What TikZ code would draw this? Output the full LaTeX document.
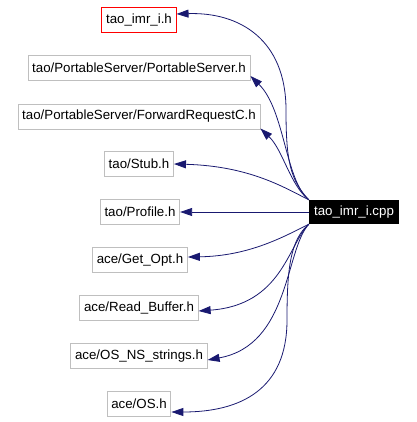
\documentclass[tikz,border=0pt]{standalone}
\usepackage{fontspec}
\setmainfont{Liberation Sans}
\usetikzlibrary{arrows.meta}
\definecolor{EdgeClr}{rgb}{0.098,0.098,0.439}
\definecolor{BoxClr}{rgb}{0.75,0.75,0.75}

\begin{document}
\begin{tikzpicture}[x=1pt,y=-1pt,
  file/.style={draw=BoxClr,line width=0.9pt,inner xsep=4.2pt,minimum height=25pt,font=\fontsize{13.3}{16}\selectfont},
  cur/.style={file,draw=red},
  main/.style={fill=black,text=white,inner xsep=4.2pt,minimum height=24pt,minimum width=90pt,font=\fontsize{13.3}{16}\selectfont},
  dep/.style={draw=EdgeClr,line width=0.8pt,-{Triangle[length=12pt,width=8pt]}}]

\useasboundingbox (0,0) rectangle (416,422);

\node[cur]  (imrh)    at (139,20)  {tao\_imr\_i.h};
\node[file] (pserver) at (139,68)  {tao/PortableServer/PortableServer.h};
\node[file] (fwdreq)  at (139,116.5) {tao/PortableServer/ForwardRequestC.h};
\node[file] (stub)    at (139,164) {tao/Stub.h};
\node[file] (profile) at (140,212) {tao/Profile.h};
\node[file] (getopt)  at (140,260) {ace/Get\_Opt.h};
\node[file] (readbuf) at (139,308) {ace/Read\_Buffer.h};
\node[file] (nsstr)   at (139,356) {ace/OS\_NS\_strings.h};
\node[file] (osh)     at (139,404) {ace/OS.h};

\node[main] (cpp) at (354,212) {tao\_imr\_i.cpp};

\draw[dep] (cpp.north west) .. controls (290,180) and (286,160) .. (286,110) .. controls (286,40) and (240,12) .. ([yshift=6pt]imrh.east);
\draw[dep] (cpp.north west) .. controls (285,180) and (285,110) .. ([yshift=-8pt]pserver.east);
\draw[dep] (cpp.north west) .. controls (290,185) and (283,150) .. ([yshift=-12pt]fwdreq.east);
\draw[dep] (cpp.north west) .. controls (285,188) and (250,166) .. (stub.east);
\draw[dep] (cpp.west) -- (profile.east);
\draw[dep] (cpp.south west) .. controls (285,236) and (250,256) .. ([yshift=3pt]getopt.east);
\draw[dep] (cpp.south west) .. controls (288,245) and (282,305) .. ([yshift=-3pt]readbuf.east);
\draw[dep] (cpp.south west) .. controls (285,250) and (290,345) .. ([yshift=-4pt]nsstr.east);
\draw[dep] (cpp.south west) .. controls (290,240) and (287,270) .. (287,320) .. controls (287,390) and (240,412) .. ([yshift=-8pt]osh.east);

\end{tikzpicture}
\end{document}
